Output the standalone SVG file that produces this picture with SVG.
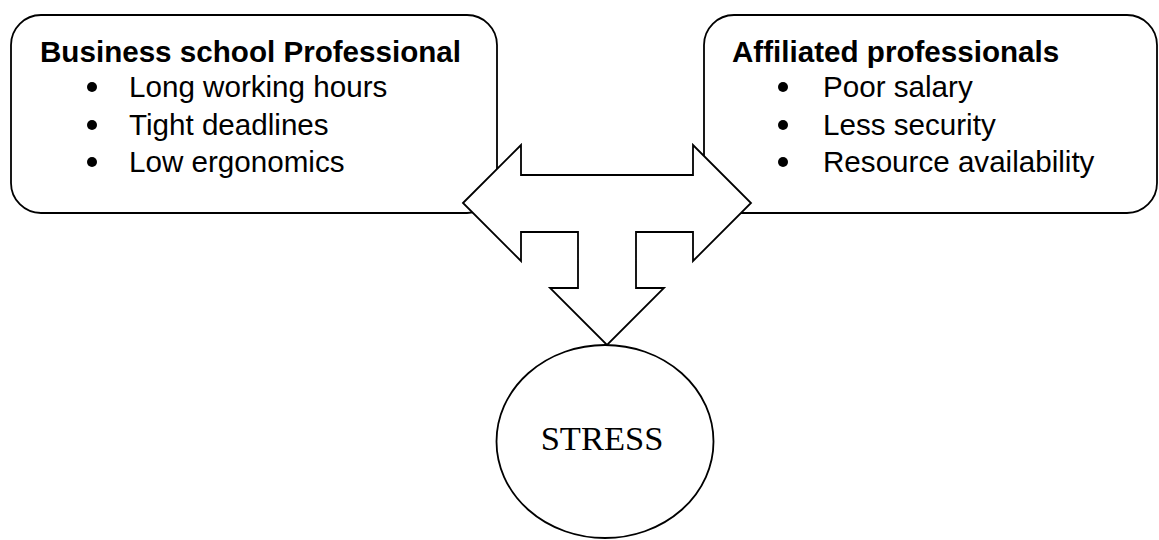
<svg xmlns="http://www.w3.org/2000/svg" width="1159" height="540" viewBox="0 0 1159 540">
<style>
.box{fill:#fff;stroke:#000;stroke-width:1.8}
.title{font-family:"Liberation Sans",Arial,sans-serif;font-weight:bold;font-size:29.6px;fill:#000}
.item{font-family:"Liberation Sans",Arial,sans-serif;font-size:29.6px;fill:#000}
.stress{font-family:"Liberation Serif","Times New Roman",serif;font-size:34.5px;fill:#000}
.arrow{fill:#fff;stroke:#000;stroke-width:1.8;stroke-linejoin:miter}
</style>
<rect width="1159" height="540" fill="#fff"/>
<g id="node-business">
<rect class="box" x="11" y="15" width="486" height="198" rx="30" ry="30"/>
<text class="title" x="40" y="62">Business school Professional</text>
<circle cx="92" cy="87" r="5"/>
<text class="item" x="129" y="97">Long working hours</text>
<circle cx="92" cy="125" r="5"/>
<text class="item" x="129" y="135">Tight deadlines</text>
<circle cx="92" cy="162" r="5"/>
<text class="item" x="129" y="172">Low ergonomics</text>
</g>
<g id="node-affiliated">
<rect class="box" x="704" y="15" width="453" height="198" rx="30" ry="30"/>
<text class="title" x="732" y="62">Affiliated professionals</text>
<circle cx="783" cy="87" r="5"/>
<text class="item" x="823" y="97">Poor salary</text>
<circle cx="783" cy="125" r="5"/>
<text class="item" x="823" y="135">Less security</text>
<circle cx="783" cy="162" r="5"/>
<text class="item" x="823" y="172">Resource availability</text>
</g>
<g id="connectors">
<polygon class="arrow" points="463,203 521,145 521,175 693,175 693,145 751,203 693,261 693,232 636,232 636,288 664,288 607,345 550,288 578,288 578,232 521,232 521,261"/>
</g>
<g id="node-stress">
<ellipse class="box" cx="605" cy="441.5" rx="108.5" ry="96.5"/>
<text class="stress" x="602" y="450" text-anchor="middle">STRESS</text>
</g>
</svg>
